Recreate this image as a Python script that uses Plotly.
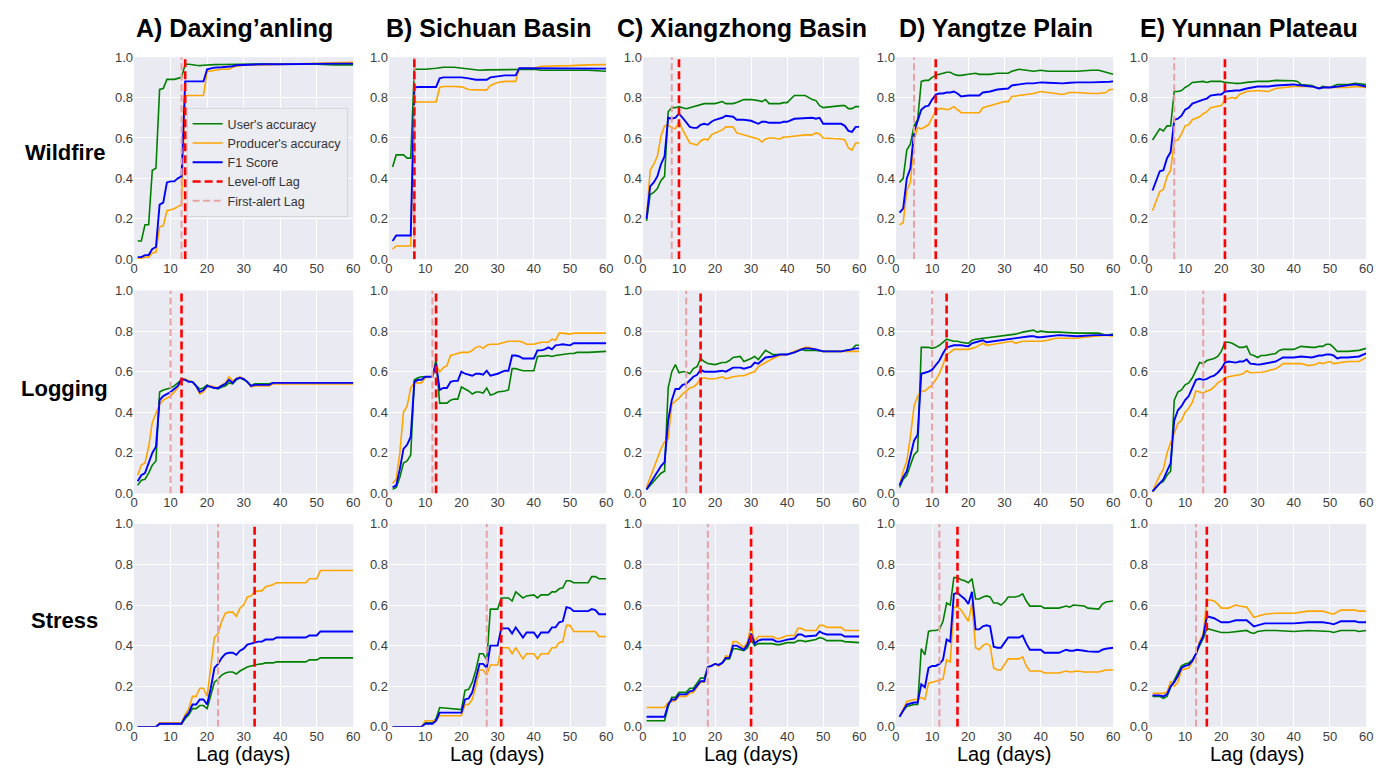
import plotly.graph_objects as go

# ---------------- DATA ----------------
regions = ["A) Daxing\u2019anling", "B) Sichuan Basin", "C) Xiangzhong Basin",
           "D) Yangtze Plain", "E) Yunnan Plateau"]
disturbances = ["Wildfire", "Logging", "Stress"]
series_names = ["User's accuracy", "Producer's accuracy", "F1 Score"]

# first-alert and level-off lags (days), per disturbance, per region A..E
first_alert_wildfire = [13, 7, 8, 5, 7]
leveloff_wildfire = [14, 7, 10, 11, 21]
first_alert_logging = [10, 12, 12, 10, 15]
leveloff_logging = [13, 13, 16, 14, 21]
first_alert_stress = [23, 27, 18, 12, 13]
leveloff_stress = [33, 31, 30, 17, 16]

# ---- Wildfire ----
wf_A_lag = [1,2,3,4,5,6,7,8,9,10,11,12,13,14,15,17,18,19,20,21,22,24,26,27,28,30,35,40,45,50,55,60]
wf_A_ua = [0.09,0.09,0.17,0.17,0.44,0.45,0.84,0.845,0.89,0.89,0.89,0.895,0.90,0.965,0.965,0.96,0.958,0.96,0.962,0.963,0.963,0.964,0.965,0.965,0.966,0.966,0.966,0.966,0.966,0.965,0.962,0.962]
wf_A_pa = [0.005,0.005,0.01,0.01,0.03,0.035,0.16,0.165,0.24,0.245,0.25,0.26,0.27,0.81,0.81,0.81,0.81,0.81,0.93,0.93,0.935,0.94,0.94,0.95,0.955,0.96,0.962,0.965,0.968,0.972,0.975,0.975]
wf_A_f1 = [0.01,0.01,0.02,0.02,0.05,0.06,0.27,0.28,0.38,0.385,0.385,0.40,0.41,0.88,0.88,0.88,0.88,0.88,0.94,0.945,0.948,0.95,0.952,0.955,0.96,0.962,0.965,0.965,0.967,0.968,0.968,0.968]

wf_B_lag = [1,2,3,4,5,6,7,8,10,13,14,15,18,20,22,23,24,25,27,28,30,32,35,36,38,40,42,45,48,50,55,60]
wf_B_ua = [0.456,0.516,0.516,0.516,0.50,0.50,0.94,0.94,0.94,0.945,0.948,0.95,0.95,0.945,0.94,0.937,0.935,0.935,0.937,0.937,0.937,0.938,0.94,0.94,0.94,0.94,0.935,0.935,0.935,0.935,0.935,0.93]
wf_B_pa = [0.05,0.065,0.065,0.065,0.065,0.065,0.778,0.778,0.778,0.778,0.85,0.855,0.855,0.853,0.84,0.838,0.838,0.838,0.838,0.86,0.875,0.88,0.88,0.945,0.945,0.945,0.955,0.955,0.957,0.958,0.962,0.963]
wf_B_f1 = [0.09,0.117,0.117,0.117,0.117,0.117,0.85,0.852,0.852,0.852,0.895,0.90,0.90,0.90,0.895,0.89,0.888,0.888,0.888,0.90,0.905,0.91,0.91,0.945,0.945,0.945,0.945,0.945,0.945,0.945,0.945,0.943]

wf_C_lag = [1,2,3,4,5,6,7,8,9,10,11,12,13,14,15,16,17,18,19,20,22,23,25,26,28,30,32,33,34,35,36,38,39,40,42,45,47,48,49,50,55,56,57,58,59,60]
wf_C_ua = [0.19,0.32,0.33,0.35,0.39,0.41,0.73,0.75,0.75,0.755,0.75,0.745,0.75,0.755,0.76,0.765,0.77,0.77,0.77,0.77,0.78,0.77,0.77,0.775,0.79,0.79,0.785,0.78,0.79,0.77,0.77,0.77,0.775,0.775,0.81,0.81,0.79,0.785,0.76,0.75,0.76,0.76,0.745,0.745,0.755,0.755]
wf_C_pa = [0.20,0.44,0.47,0.51,0.61,0.66,0.665,0.65,0.645,0.68,0.64,0.61,0.575,0.57,0.565,0.585,0.595,0.59,0.615,0.625,0.64,0.655,0.655,0.625,0.615,0.605,0.595,0.58,0.595,0.60,0.60,0.595,0.605,0.605,0.61,0.615,0.615,0.625,0.62,0.60,0.595,0.59,0.55,0.54,0.575,0.575]
wf_C_f1 = [0.20,0.36,0.38,0.41,0.47,0.51,0.70,0.695,0.70,0.72,0.70,0.68,0.655,0.65,0.65,0.665,0.67,0.665,0.68,0.69,0.70,0.71,0.705,0.69,0.69,0.685,0.67,0.68,0.68,0.675,0.675,0.675,0.68,0.68,0.695,0.70,0.70,0.695,0.70,0.67,0.67,0.66,0.635,0.63,0.655,0.655]

wf_D_lag = [1,2,3,4,5,6,7,8,9,10,11,12,13,14,15,16,17,18,20,22,23,24,26,28,30,31,32,34,36,38,40,42,45,46,48,50,54,56,58,59,60]
wf_D_ua = [0.38,0.40,0.54,0.57,0.66,0.69,0.88,0.885,0.885,0.90,0.91,0.915,0.92,0.925,0.925,0.915,0.91,0.91,0.915,0.92,0.915,0.915,0.915,0.92,0.92,0.92,0.93,0.94,0.935,0.93,0.935,0.93,0.93,0.93,0.93,0.93,0.935,0.935,0.925,0.92,0.915]
wf_D_pa = [0.17,0.18,0.34,0.38,0.59,0.65,0.645,0.655,0.665,0.70,0.735,0.745,0.745,0.74,0.745,0.755,0.74,0.725,0.725,0.725,0.725,0.75,0.76,0.77,0.78,0.78,0.805,0.81,0.815,0.82,0.83,0.825,0.82,0.815,0.825,0.825,0.82,0.82,0.825,0.84,0.84]
wf_D_f1 = [0.23,0.25,0.40,0.45,0.63,0.68,0.74,0.755,0.76,0.79,0.815,0.82,0.82,0.825,0.825,0.83,0.82,0.805,0.81,0.81,0.81,0.825,0.83,0.84,0.845,0.845,0.86,0.865,0.87,0.87,0.875,0.873,0.87,0.87,0.873,0.875,0.875,0.875,0.875,0.878,0.88]

wf_E_lag = [1,2,3,4,5,6,7,8,9,10,11,12,14,15,16,17,19,20,21,22,23,24,25,27,30,33,35,40,41,42,45,47,48,50,52,55,57,60]
wf_E_ua = [0.59,0.62,0.645,0.635,0.66,0.66,0.83,0.83,0.835,0.85,0.86,0.875,0.88,0.88,0.875,0.88,0.88,0.88,0.875,0.875,0.872,0.87,0.87,0.875,0.88,0.88,0.885,0.883,0.88,0.865,0.86,0.845,0.855,0.85,0.865,0.865,0.87,0.865]
wf_E_pa = [0.24,0.29,0.335,0.345,0.41,0.44,0.585,0.59,0.62,0.66,0.665,0.69,0.705,0.72,0.73,0.75,0.755,0.76,0.79,0.795,0.80,0.795,0.815,0.83,0.835,0.83,0.845,0.855,0.855,0.855,0.855,0.845,0.85,0.85,0.85,0.85,0.855,0.85]
wf_E_f1 = [0.34,0.39,0.435,0.44,0.50,0.53,0.69,0.695,0.71,0.74,0.75,0.77,0.785,0.79,0.795,0.81,0.815,0.815,0.83,0.832,0.835,0.835,0.835,0.845,0.855,0.855,0.86,0.865,0.862,0.86,0.855,0.845,0.85,0.85,0.855,0.86,0.865,0.855]

# ---- Logging ----
lg_A_lag = [1,2,3,4,5,6,7,8,9,10,11,12,13,14,15,16,17,18,19,20,21,22,23,24,25,26,27,28,29,30,31,32,33,35,37,38,40,50,60]
lg_A_ua = [0.04,0.065,0.07,0.10,0.14,0.16,0.50,0.51,0.515,0.52,0.53,0.545,0.56,0.56,0.555,0.55,0.53,0.515,0.52,0.535,0.525,0.52,0.515,0.525,0.53,0.545,0.54,0.56,0.57,0.56,0.55,0.53,0.54,0.54,0.54,0.545,0.545,0.545,0.545]
lg_A_pa = [0.09,0.14,0.15,0.23,0.35,0.40,0.44,0.46,0.47,0.48,0.50,0.52,0.565,0.565,0.555,0.55,0.53,0.49,0.50,0.525,0.53,0.525,0.52,0.535,0.545,0.575,0.555,0.565,0.575,0.565,0.55,0.525,0.53,0.53,0.53,0.54,0.54,0.54,0.54]
lg_A_f1 = [0.06,0.09,0.10,0.15,0.20,0.23,0.46,0.48,0.49,0.50,0.515,0.53,0.565,0.56,0.55,0.55,0.53,0.50,0.51,0.53,0.525,0.52,0.52,0.53,0.54,0.56,0.545,0.565,0.57,0.565,0.55,0.53,0.535,0.535,0.535,0.545,0.545,0.545,0.545]

lg_B_lag = [1,2,3,4,5,6,7,8,9,10,11,12,13,14,15,16,17,18,19,20,21,22,23,24,25,26,27,28,29,30,32,33,34,35,36,37,38,40,41,42,43,44,45,46,47,48,50,51,52,55,60]
lg_B_ua = [0.02,0.03,0.08,0.15,0.16,0.19,0.56,0.57,0.575,0.575,0.575,0.575,0.66,0.445,0.445,0.445,0.46,0.465,0.465,0.525,0.515,0.505,0.49,0.50,0.50,0.495,0.52,0.485,0.49,0.50,0.505,0.51,0.615,0.615,0.61,0.605,0.605,0.605,0.675,0.675,0.678,0.68,0.675,0.68,0.683,0.685,0.69,0.69,0.695,0.695,0.70]
lg_B_pa = [0.05,0.07,0.20,0.40,0.43,0.52,0.545,0.545,0.545,0.57,0.575,0.575,0.63,0.60,0.62,0.63,0.68,0.685,0.69,0.695,0.695,0.695,0.705,0.72,0.725,0.715,0.73,0.735,0.735,0.735,0.745,0.75,0.75,0.75,0.75,0.745,0.735,0.735,0.74,0.745,0.745,0.745,0.76,0.755,0.79,0.79,0.785,0.79,0.79,0.79,0.79]
lg_B_f1 = [0.03,0.04,0.12,0.22,0.24,0.28,0.55,0.56,0.56,0.575,0.575,0.575,0.64,0.51,0.52,0.52,0.55,0.555,0.555,0.60,0.59,0.585,0.58,0.59,0.59,0.585,0.605,0.58,0.585,0.59,0.605,0.605,0.68,0.68,0.675,0.665,0.665,0.665,0.705,0.705,0.71,0.72,0.71,0.73,0.732,0.735,0.73,0.74,0.74,0.74,0.74]

lg_C_lag = [1,2,3,4,5,6,7,8,9,10,11,12,13,14,15,16,17,18,20,22,23,24,25,27,28,30,31,32,33,34,36,38,40,42,44,45,46,48,50,55,58,59,60]
lg_C_ua = [0.02,0.04,0.06,0.08,0.10,0.11,0.52,0.60,0.635,0.595,0.60,0.60,0.59,0.615,0.625,0.665,0.65,0.64,0.635,0.645,0.645,0.655,0.67,0.675,0.65,0.665,0.675,0.66,0.68,0.705,0.685,0.685,0.685,0.695,0.71,0.705,0.705,0.705,0.70,0.70,0.71,0.73,0.73]
lg_C_pa = [0.03,0.08,0.13,0.18,0.22,0.255,0.27,0.44,0.455,0.47,0.49,0.505,0.52,0.525,0.54,0.565,0.57,0.565,0.565,0.575,0.565,0.57,0.575,0.58,0.58,0.595,0.60,0.625,0.635,0.645,0.665,0.68,0.685,0.70,0.715,0.72,0.72,0.71,0.70,0.70,0.70,0.70,0.70]
lg_C_f1 = [0.02,0.05,0.08,0.11,0.135,0.155,0.36,0.46,0.515,0.515,0.535,0.54,0.56,0.575,0.585,0.61,0.60,0.60,0.60,0.605,0.60,0.61,0.62,0.62,0.615,0.625,0.645,0.64,0.655,0.67,0.675,0.685,0.685,0.695,0.71,0.715,0.715,0.71,0.70,0.70,0.71,0.715,0.715]

lg_D_lag = [1,2,3,4,5,6,7,8,9,10,11,12,13,14,15,16,17,18,20,21,22,24,25,27,30,32,33,35,37,38,39,40,42,44,45,50,52,55,56,58,60]
lg_D_ua = [0.03,0.07,0.09,0.14,0.19,0.21,0.72,0.72,0.72,0.715,0.72,0.73,0.745,0.76,0.755,0.75,0.75,0.745,0.74,0.755,0.76,0.765,0.765,0.77,0.78,0.785,0.785,0.795,0.80,0.805,0.795,0.80,0.795,0.795,0.795,0.79,0.79,0.79,0.79,0.78,0.785]
lg_D_pa = [0.04,0.11,0.16,0.28,0.43,0.48,0.505,0.505,0.52,0.535,0.56,0.59,0.635,0.685,0.695,0.71,0.71,0.71,0.71,0.715,0.72,0.74,0.73,0.735,0.745,0.75,0.74,0.75,0.75,0.75,0.75,0.75,0.755,0.765,0.765,0.765,0.77,0.775,0.775,0.78,0.775]
lg_D_f1 = [0.04,0.08,0.11,0.19,0.26,0.29,0.59,0.595,0.60,0.61,0.635,0.655,0.69,0.72,0.725,0.73,0.73,0.73,0.725,0.74,0.745,0.755,0.745,0.75,0.76,0.765,0.765,0.77,0.775,0.775,0.77,0.77,0.775,0.778,0.78,0.775,0.778,0.78,0.78,0.78,0.78]

lg_E_lag = [1,2,3,4,5,6,7,8,9,10,11,12,13,14,15,16,17,18,19,20,21,22,23,24,25,26,27,28,29,30,31,32,34,35,36,37,38,40,42,44,45,46,47,48,49,50,51,52,53,55,58,60]
lg_E_ua = [0.01,0.03,0.05,0.06,0.09,0.11,0.46,0.50,0.51,0.535,0.545,0.57,0.61,0.645,0.64,0.655,0.66,0.665,0.675,0.70,0.745,0.745,0.74,0.73,0.72,0.72,0.725,0.685,0.68,0.67,0.68,0.68,0.685,0.69,0.705,0.71,0.71,0.71,0.725,0.72,0.72,0.72,0.725,0.725,0.735,0.735,0.72,0.70,0.70,0.70,0.705,0.715]
lg_E_pa = [0.01,0.05,0.09,0.12,0.20,0.25,0.30,0.345,0.36,0.40,0.42,0.45,0.505,0.50,0.495,0.505,0.51,0.525,0.545,0.555,0.57,0.575,0.578,0.58,0.585,0.59,0.605,0.595,0.595,0.595,0.597,0.60,0.61,0.615,0.625,0.64,0.64,0.64,0.64,0.63,0.632,0.635,0.645,0.64,0.645,0.65,0.64,0.642,0.645,0.65,0.65,0.67]
lg_E_f1 = [0.01,0.03,0.05,0.07,0.11,0.15,0.36,0.41,0.43,0.46,0.48,0.52,0.56,0.565,0.56,0.565,0.575,0.58,0.595,0.615,0.645,0.65,0.648,0.645,0.65,0.65,0.66,0.64,0.638,0.635,0.637,0.64,0.645,0.65,0.66,0.67,0.67,0.67,0.675,0.672,0.67,0.675,0.68,0.68,0.685,0.685,0.68,0.665,0.67,0.67,0.675,0.69]

# ---- Stress ----
st_A_lag = [1,6,7,13,14,15,16,17,18,19,20,21,22,23,24,25,26,27,28,29,30,31,32,33,34,35,36,38,39,42,45,47,48,50,51,60]
st_A_ua = [0,0,0.015,0.015,0.04,0.06,0.09,0.09,0.105,0.105,0.09,0.15,0.22,0.235,0.255,0.265,0.27,0.27,0.26,0.275,0.285,0.295,0.30,0.305,0.308,0.31,0.315,0.315,0.32,0.32,0.32,0.32,0.33,0.33,0.34,0.34]
st_A_pa = [0,0,0.02,0.02,0.06,0.09,0.15,0.15,0.19,0.19,0.15,0.30,0.44,0.46,0.52,0.56,0.565,0.565,0.545,0.585,0.60,0.64,0.645,0.665,0.67,0.67,0.69,0.70,0.71,0.71,0.71,0.71,0.73,0.73,0.77,0.77]
st_A_f1 = [0,0,0.015,0.015,0.05,0.07,0.11,0.11,0.135,0.135,0.11,0.19,0.29,0.31,0.34,0.36,0.365,0.365,0.355,0.375,0.385,0.405,0.41,0.415,0.42,0.42,0.43,0.43,0.44,0.44,0.44,0.44,0.45,0.45,0.47,0.47]

st_B_lag = [1,9,10,12,13,14,20,21,22,23,24,25,26,27,28,30,31,33,34,35,36,37,38,40,41,42,44,45,46,47,48,49,50,51,55,56,57,58,60]
st_B_ua = [0,0,0.02,0.02,0.04,0.095,0.085,0.18,0.185,0.22,0.28,0.36,0.36,0.33,0.58,0.58,0.635,0.635,0.62,0.665,0.65,0.635,0.645,0.65,0.635,0.65,0.65,0.665,0.665,0.68,0.685,0.72,0.72,0.71,0.71,0.74,0.74,0.73,0.73]
st_B_pa = [0,0,0.03,0.03,0.03,0.055,0.055,0.11,0.11,0.135,0.20,0.28,0.28,0.255,0.305,0.305,0.39,0.39,0.36,0.39,0.36,0.335,0.36,0.36,0.335,0.36,0.36,0.39,0.39,0.415,0.42,0.50,0.50,0.47,0.47,0.47,0.47,0.445,0.445]
st_B_f1 = [0,0,0.015,0.015,0.03,0.07,0.07,0.135,0.14,0.17,0.24,0.31,0.31,0.29,0.40,0.40,0.485,0.485,0.46,0.49,0.465,0.44,0.465,0.465,0.44,0.465,0.465,0.49,0.49,0.515,0.52,0.59,0.585,0.57,0.57,0.58,0.575,0.555,0.555]

st_C_lag = [1,6,7,8,9,10,12,13,14,15,16,17,18,19,20,21,22,23,24,25,26,27,28,29,30,31,32,33,36,37,38,40,42,43,44,45,48,49,50,51,55,56,60]
st_C_ua = [0.03,0.03,0.10,0.145,0.145,0.17,0.17,0.19,0.19,0.215,0.24,0.24,0.295,0.30,0.31,0.305,0.315,0.335,0.335,0.385,0.385,0.38,0.375,0.39,0.43,0.40,0.41,0.41,0.41,0.405,0.405,0.415,0.415,0.425,0.425,0.42,0.43,0.44,0.435,0.425,0.425,0.42,0.415]
st_C_pa = [0.095,0.095,0.12,0.125,0.13,0.15,0.15,0.165,0.17,0.195,0.22,0.22,0.295,0.30,0.31,0.30,0.315,0.35,0.345,0.42,0.42,0.405,0.39,0.42,0.50,0.42,0.445,0.445,0.445,0.435,0.435,0.45,0.45,0.485,0.485,0.475,0.475,0.50,0.50,0.49,0.49,0.475,0.475]
st_C_f1 = [0.05,0.05,0.11,0.135,0.135,0.16,0.16,0.175,0.18,0.205,0.225,0.225,0.295,0.30,0.31,0.305,0.315,0.34,0.34,0.40,0.40,0.39,0.38,0.405,0.46,0.41,0.425,0.43,0.43,0.42,0.42,0.43,0.435,0.455,0.455,0.445,0.45,0.47,0.46,0.455,0.455,0.445,0.445]

st_D_lag = [1,2,3,4,5,6,7,8,9,10,11,12,13,14,15,16,17,18,19,20,21,22,23,24,25,26,27,28,29,30,31,33,34,35,36,37,40,41,45,47,48,49,50,52,53,55,56,57,58,60]
st_D_ua = [0.05,0.08,0.10,0.105,0.11,0.11,0.385,0.355,0.47,0.475,0.475,0.48,0.52,0.61,0.60,0.735,0.735,0.725,0.72,0.71,0.73,0.63,0.63,0.64,0.645,0.64,0.61,0.61,0.60,0.615,0.64,0.64,0.645,0.655,0.62,0.595,0.595,0.585,0.585,0.595,0.59,0.60,0.598,0.595,0.585,0.58,0.58,0.605,0.615,0.62]
st_D_pa = [0.05,0.085,0.125,0.13,0.135,0.135,0.145,0.135,0.215,0.22,0.225,0.23,0.235,0.33,0.32,0.59,0.59,0.575,0.55,0.52,0.61,0.39,0.38,0.40,0.41,0.40,0.29,0.28,0.28,0.31,0.335,0.335,0.335,0.345,0.30,0.275,0.275,0.265,0.265,0.275,0.27,0.272,0.275,0.27,0.27,0.27,0.27,0.275,0.28,0.28]
st_D_f1 = [0.05,0.08,0.11,0.115,0.12,0.12,0.21,0.195,0.29,0.30,0.30,0.31,0.33,0.43,0.42,0.655,0.66,0.645,0.63,0.605,0.665,0.48,0.48,0.495,0.50,0.495,0.395,0.39,0.39,0.415,0.44,0.44,0.44,0.45,0.41,0.38,0.38,0.365,0.365,0.38,0.375,0.375,0.38,0.375,0.372,0.37,0.37,0.38,0.385,0.39]

st_E_lag = [1,3,4,5,6,7,8,9,10,11,12,13,14,15,16,17,18,19,20,22,24,25,27,28,29,30,32,35,40,44,48,50,51,53,57,58,60]
st_E_ua = [0.15,0.15,0.14,0.15,0.195,0.23,0.26,0.30,0.31,0.315,0.33,0.36,0.40,0.435,0.485,0.48,0.475,0.47,0.465,0.465,0.47,0.472,0.475,0.465,0.46,0.47,0.475,0.475,0.47,0.475,0.47,0.47,0.465,0.475,0.475,0.47,0.475]
st_E_pa = [0.165,0.165,0.165,0.17,0.225,0.20,0.22,0.28,0.285,0.29,0.32,0.36,0.42,0.46,0.625,0.625,0.62,0.605,0.585,0.585,0.60,0.595,0.59,0.565,0.54,0.545,0.555,0.56,0.56,0.57,0.57,0.56,0.555,0.575,0.575,0.57,0.57]
st_E_f1 = [0.155,0.155,0.15,0.16,0.20,0.22,0.25,0.29,0.30,0.305,0.325,0.36,0.41,0.445,0.545,0.54,0.535,0.525,0.515,0.515,0.525,0.525,0.525,0.51,0.495,0.50,0.51,0.51,0.51,0.515,0.515,0.51,0.505,0.52,0.52,0.515,0.515]

x_ticks = [0, 10, 20, 30, 40, 50, 60]
y_ticks = [0.0, 0.2, 0.4, 0.6, 0.8, 1.0]

# ---------------- LAYOUT ----------------
W, H = 1386, 769
col_px = [(123, 344), (380, 599), (636, 854), (891, 1110), (1146, 1365)]
row_px = [(43, 249), (281, 488), (519, 726)]

C_UA, C_PA, C_F1 = "#008000", "#FFA500", "#0000FF"
C_LO, C_FA = "#FF0000", "#E7A2A4"
BG = "#EAEAF2"
FONT = "Liberation Sans, Arial, sans-serif"

panels = [
    [(wf_A_lag, wf_A_ua, wf_A_pa, wf_A_f1), (wf_B_lag, wf_B_ua, wf_B_pa, wf_B_f1),
     (wf_C_lag, wf_C_ua, wf_C_pa, wf_C_f1), (wf_D_lag, wf_D_ua, wf_D_pa, wf_D_f1),
     (wf_E_lag, wf_E_ua, wf_E_pa, wf_E_f1)],
    [(lg_A_lag, lg_A_ua, lg_A_pa, lg_A_f1), (lg_B_lag, lg_B_ua, lg_B_pa, lg_B_f1),
     (lg_C_lag, lg_C_ua, lg_C_pa, lg_C_f1), (lg_D_lag, lg_D_ua, lg_D_pa, lg_D_f1),
     (lg_E_lag, lg_E_ua, lg_E_pa, lg_E_f1)],
    [(st_A_lag, st_A_ua, st_A_pa, st_A_f1), (st_B_lag, st_B_ua, st_B_pa, st_B_f1),
     (st_C_lag, st_C_ua, st_C_pa, st_C_f1), (st_D_lag, st_D_ua, st_D_pa, st_D_f1),
     (st_E_lag, st_E_ua, st_E_pa, st_E_f1)],
]
first_alert = [first_alert_wildfire, first_alert_logging, first_alert_stress]
leveloff = [leveloff_wildfire, leveloff_logging, leveloff_stress]

fig = go.Figure()
layout = {}
annotations = []

for r in range(3):
    for c in range(5):
        k = r * 5 + c + 1
        xa = "x" if k == 1 else f"x{k}"
        ya = "y" if k == 1 else f"y{k}"
        lag, ua, pa, f1 = panels[r][c]
        show = (k == 1)
        for vals, name, col, w, rank in ((ua, series_names[0], C_UA, 1.6, 1),
                                         (pa, series_names[1], C_PA, 1.6, 2),
                                         (f1, series_names[2], C_F1, 1.9, 3)):
            fig.add_trace(go.Scatter(x=lag, y=vals, mode="lines", name=name,
                                     line=dict(color=col, width=w),
                                     xaxis=xa, yaxis=ya, showlegend=show,
                                     legendrank=rank))
        lo = leveloff[r][c]
        fa = first_alert[r][c]
        fig.add_trace(go.Scatter(x=[fa, fa], y=[0, 1], mode="lines", name="First-alert Lag",
                                 line=dict(color=C_FA, width=2, dash="7px,3.5px"),
                                 xaxis=xa, yaxis=ya, showlegend=show, legendrank=5))
        fig.add_trace(go.Scatter(x=[lo, lo], y=[0, 1], mode="lines", name="Level-off Lag",
                                 line=dict(color=C_LO, width=2.6, dash="8px,4px"),
                                 xaxis=xa, yaxis=ya, showlegend=show, legendrank=4))

        x0, x1 = col_px[c]
        y0, y1 = row_px[r]
        axkey = "xaxis" if k == 1 else f"xaxis{k}"
        aykey = "yaxis" if k == 1 else f"yaxis{k}"
        layout[axkey] = dict(domain=[x0 / W, x1 / W], anchor=ya, range=[0, 60],
                             tickvals=x_ticks, showgrid=True, gridcolor="white",
                             gridwidth=1, zeroline=False, showline=False, ticks="",
                             tickfont=dict(size=13, color="#3d3d3d", family=FONT),
                             fixedrange=True)
        layout[aykey] = dict(domain=[1 - y1 / H, 1 - y0 / H], anchor=xa, range=[0, 1],
                             tickvals=y_ticks, tickformat=".1f", showgrid=True,
                             gridcolor="white", gridwidth=1, zeroline=False,
                             showline=False, ticks="",
                             tickfont=dict(size=13, color="#3d3d3d", family=FONT),
                             fixedrange=True)
        if r == 0:
            annotations.append(dict(text=f"<b>{regions[c]}</b>", xref="paper", yref="paper",
                                    x=(x0 + x1) / 2 / W, y=1 - 13 / H, xanchor="center",
                                    yanchor="middle", showarrow=False, xshift=-9,
                                    font=dict(size=25, color="black", family=FONT)))
        if r == 2:
            annotations.append(dict(text="Lag (days)", xref="paper", yref="paper",
                                    x=(x0 + x1) / 2 / W, y=1 - 754 / H, xanchor="center",
                                    yanchor="middle", showarrow=False,
                                    font=dict(size=20, color="black", family=FONT)))

row_centers = [140, 381, 618]
for r in range(3):
    annotations.append(dict(text=f"<b>{disturbances[r]}</b>", xref="paper", yref="paper",
                            x=53 / W, y=1 - row_centers[r] / H, xanchor="center",
                            yanchor="middle", showarrow=False,
                            font=dict(size=22, color="black", family=FONT)))

fig.update_layout(
    width=W, height=H, margin=dict(l=0, r=0, t=0, b=0),
    paper_bgcolor="white", plot_bgcolor=BG,
    annotations=annotations,
    showlegend=True,
    legend=dict(x=176 / W, y=1 - 95 / H, xanchor="left", yanchor="top",
                bgcolor="rgba(236,236,243,0.92)", bordercolor="#D6D6DE", borderwidth=1,
                font=dict(size=12.5, color="#333333", family=FONT),
                tracegroupgap=0, itemwidth=30),
    **layout,
)

fig.write_html("out.html")
